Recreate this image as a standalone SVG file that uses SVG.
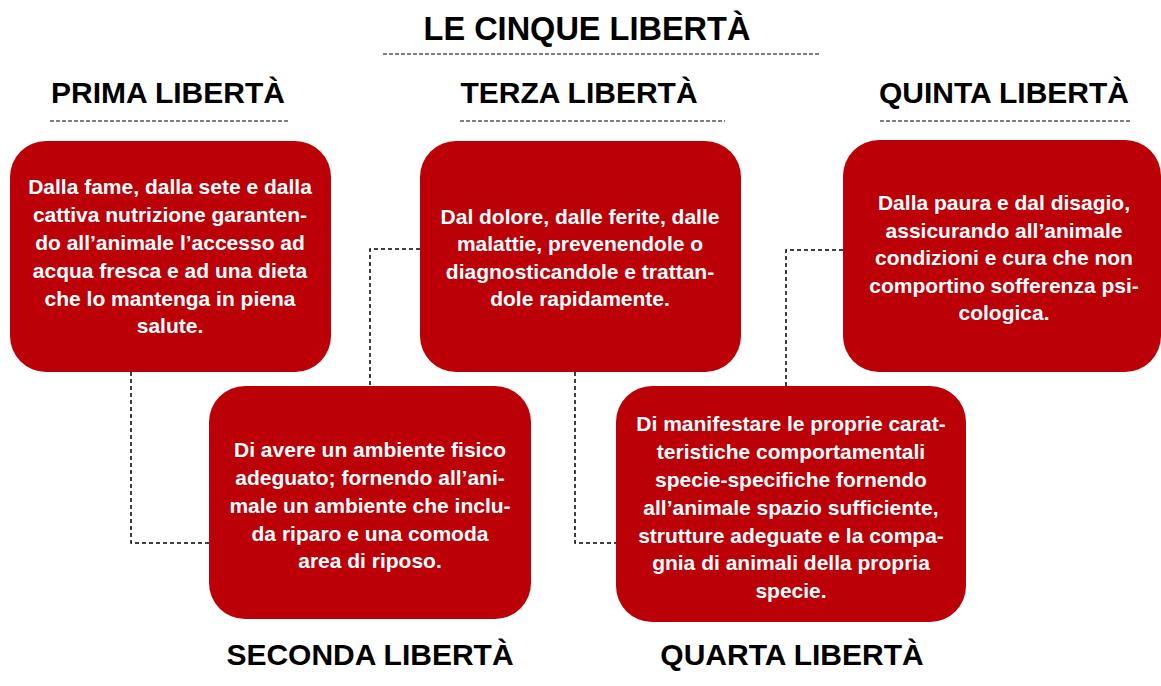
<svg xmlns="http://www.w3.org/2000/svg" width="1161" height="686" viewBox="0 0 1161 686">
<style>
.hdr{font-family:"Liberation Sans",Arial,sans-serif;font-weight:bold;fill:#000;text-anchor:middle}
.box{fill:#BC0008}
.bt{font-family:"Liberation Sans",Arial,sans-serif;font-weight:bold;font-size:21px;fill:#fff;text-anchor:middle}
.ul{stroke:#000;stroke-width:1.2;stroke-dasharray:4 2;fill:none}
.con{stroke:#000;stroke-width:1.5;stroke-dasharray:4 3;fill:none}
</style>
<rect width="1161" height="686" fill="#fff"/>
<g id="title">
<text class="hdr" x="587" y="40" font-size="32.5">LE CINQUE LIBERTÀ</text>
<line class="ul" x1="383" y1="54" x2="820" y2="54"/>
</g>
<g id="connectors">
<polyline class="con" points="131,372 131,543 209,543"/>
<polyline class="con" points="420,249 370,249 370,386"/>
<polyline class="con" points="575,372 575,543 616,543"/>
<polyline class="con" points="843,250 786,250 786,386"/>
</g>
<g id="prima">
<text class="hdr" x="168" y="103" font-size="30">PRIMA LIBERTÀ</text>
<line class="ul" x1="50" y1="121" x2="290" y2="121"/>
<rect class="box" x="10" y="141" width="321" height="231" rx="36"/>
<text class="bt"><tspan x="170" y="194">Dalla fame, dalla sete e dalla</tspan><tspan x="170" y="222">cattiva nutrizione garanten-</tspan><tspan x="170" y="250">do all’animale l’accesso ad</tspan><tspan x="170" y="278">acqua fresca e ad una dieta</tspan><tspan x="170" y="306">che lo mantenga in piena</tspan><tspan x="170" y="333">salute.</tspan></text>
</g>
<g id="terza">
<text class="hdr" x="579" y="103" font-size="30">TERZA LIBERTÀ</text>
<line class="ul" x1="460" y1="121" x2="725" y2="121"/>
<rect class="box" x="420" y="141" width="321" height="231" rx="36"/>
<text class="bt"><tspan x="580" y="224">Dal dolore, dalle ferite, dalle</tspan><tspan x="580" y="251">malattie, prevenendole o</tspan><tspan x="580" y="279">diagnosticandole e trattan-</tspan><tspan x="580" y="306">dole rapidamente.</tspan></text>
</g>
<g id="quinta">
<text class="hdr" x="1004" y="103" font-size="30">QUINTA LIBERTÀ</text>
<line class="ul" x1="880" y1="121" x2="1130" y2="121"/>
<rect class="box" x="843" y="140" width="318" height="232" rx="36"/>
<text class="bt"><tspan x="1004" y="210">Dalla paura e dal disagio,</tspan><tspan x="1004" y="238">assicurando all’animale</tspan><tspan x="1004" y="265">condizioni e cura che non</tspan><tspan x="1004" y="293">comportino sofferenza psi-</tspan><tspan x="1004" y="320">cologica.</tspan></text>
</g>
<g id="seconda">
<rect class="box" x="209" y="386" width="322" height="233" rx="36"/>
<text class="bt"><tspan x="370" y="457">Di avere un ambiente fisico</tspan><tspan x="370" y="485">adeguato; fornendo all’ani-</tspan><tspan x="370" y="513">male un ambiente che inclu-</tspan><tspan x="370" y="541">da riparo e una comoda</tspan><tspan x="370" y="568">area di riposo.</tspan></text>
<text class="hdr" x="370" y="665" font-size="30">SECONDA LIBERTÀ</text>
</g>
<g id="quarta">
<rect class="box" x="616" y="386" width="350" height="236" rx="36"/>
<text class="bt"><tspan x="791" y="431">Di manifestare le proprie carat-</tspan><tspan x="791" y="459">teristiche comportamentali</tspan><tspan x="791" y="487">specie-specifiche fornendo</tspan><tspan x="791" y="515">all’animale spazio sufficiente,</tspan><tspan x="791" y="543">strutture adeguate e la compa-</tspan><tspan x="791" y="570">gnia di animali della propria</tspan><tspan x="791" y="598">specie.</tspan></text>
<text class="hdr" x="792" y="665" font-size="30">QUARTA LIBERTÀ</text>
</g>
</svg>
